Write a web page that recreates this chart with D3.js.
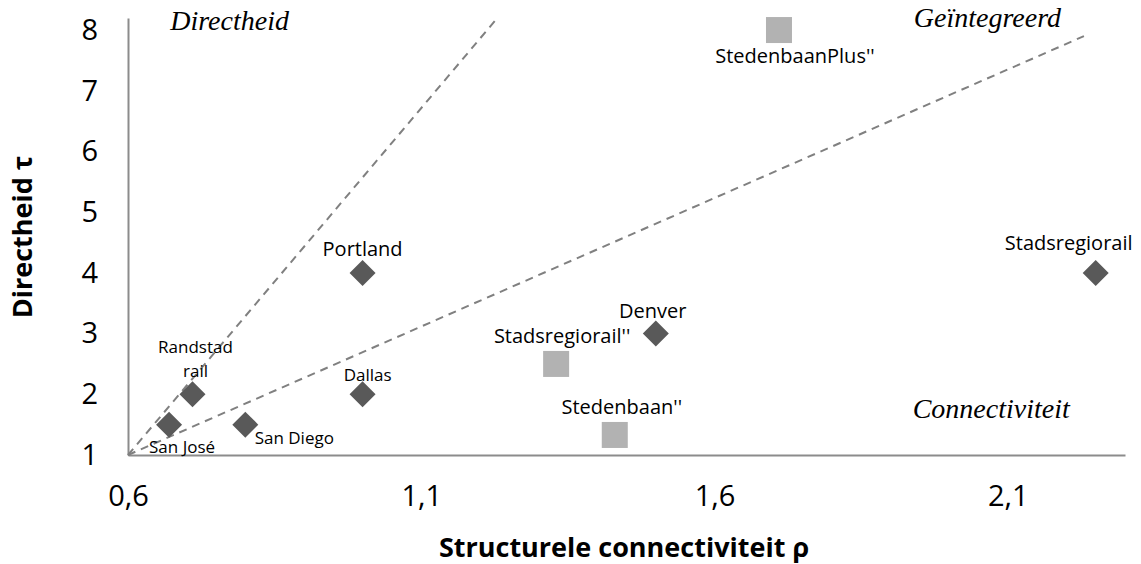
<!DOCTYPE html>
<html lang="en">
<head>
    <meta charset="UTF-8">
    <title>Directheid vs structurele connectiviteit</title>
    <style>
        body {
            margin: 0;
            padding: 0;
            background: #fff;
        }

        .tick text {
            font-family: "Open Sans", sans-serif;
            font-size: 29px;
            fill: #000;
        }

        .axis-title {
            font-family: "Open Sans", sans-serif;
            font-weight: bold;
            font-size: 27px;
            fill: #000;
        }

        .point-label {
            font-family: "Open Sans", sans-serif;
            fill: #000;
        }

        .zone-label {
            font-family: "Liberation Serif", "DejaVu Serif", serif;
            font-style: italic;
            font-size: 28px;
            fill: #000;
        }
    </style>
</head>
<body>
<svg id="chart"></svg>

<script src="https://d3js.org/d3.v7.min.js"></script>
<script>
    // existing systems (diamonds)
    var cities = ["San José", "Randstad\nrail", "San Diego", "Portland", "Dallas", "Denver", "Stadsregiorail"];
    var citiesRho = [0.67, 0.71, 0.80, 1.00, 1.00, 1.50, 2.25];
    var citiesTau = [1.5, 2.0, 1.5, 4.0, 2.0, 3.0, 4.0];

    // planned variants (squares)
    var plans = ["StedenbaanPlus''", "Stadsregiorail''", "Stedenbaan''"];
    var plansRho = [1.71, 1.33, 1.43];
    var plansTau = [8.0, 2.5, 1.33];

    // dashed dividing lines, start and end point
    var lineRho = [[0.6, 1.23], [0.6, 2.23]];
    var lineTau = [[1, 8.2], [1, 7.9]];

    // zone names with their anchor (data units)
    var zones = ["Directheid", "Geïntegreerd", "Connectiviteit"];
    var zoneRho = [0.672, 1.94, 1.938];
    var zoneTau = [8.0, 8.05, 1.61];

    var xTicks = [0.6, 1.1, 1.6, 2.1];
    var yTicks = [1, 2, 3, 4, 5, 6, 7, 8];

    // label placement relative to the marker: dx, dy, font size
    var labelPos = {
        "San José": [13, 28, 17],
        "Randstad\nrail": [3, -41, 17],
        "San Diego": [49, 19, 17],
        "Portland": [0, -17, 20],
        "Dallas": [5, -13, 17],
        "Denver": [-3, -16, 20],
        "Stadsregiorail": [-27, -23, 20],
        "StedenbaanPlus''": [16, 33, 20],
        "Stadsregiorail''": [6, -21, 20],
        "Stedenbaan''": [7, -21, 20]
    };

    var W = 1141, H = 564;
    var svg = d3.select("#chart").attr("width", W).attr("height", H);

    var x = d3.scaleLinear().domain([0.6, 2.3]).range([128, 1125]);
    var y = d3.scaleLinear().domain([1, 8.2]).range([455, 17.9]);

    var xAxis = svg.append("g")
        .attr("transform", "translate(0,455)")
        .call(d3.axisBottom(x).tickValues(xTicks).tickSize(0).tickPadding(30)
            .tickFormat(function (d) { return d3.format(".1f")(d).replace(".", ","); }));
    var yAxis = svg.append("g")
        .attr("transform", "translate(128,0)")
        .call(d3.axisLeft(y).tickValues(yTicks).tickSize(0).tickPadding(30));

    svg.selectAll(".domain").attr("stroke", "#8c8c8c").attr("stroke-width", 2);

    // dashed lines
    lineRho.forEach(function (r, i) {
        svg.append("line")
            .attr("x1", x(r[0])).attr("y1", y(lineTau[i][0]))
            .attr("x2", x(r[1])).attr("y2", y(lineTau[i][1]))
            .attr("stroke", "#808080")
            .attr("stroke-width", 2)
            .attr("stroke-dasharray", "8,6");
    });

    // zone names
    zones.forEach(function (z, i) {
        svg.append("text").attr("class", "zone-label")
            .attr("x", x(zoneRho[i])).attr("y", y(zoneTau[i]))
            .text(z);
    });

    // diamonds
    var cityData = cities.map(function (c, i) { return {name: c, rho: citiesRho[i], tau: citiesTau[i]}; });
    svg.selectAll(".city").data(cityData).enter().append("path")
        .attr("class", "city")
        .attr("d", d3.symbol().type(d3.symbolSquare).size(338))
        .attr("transform", function (d) { return "translate(" + x(d.rho) + "," + y(d.tau) + ") rotate(45)"; })
        .attr("fill", "#595959");

    // squares
    var planData = plans.map(function (p, i) { return {name: p, rho: plansRho[i], tau: plansTau[i]}; });
    svg.selectAll(".plan").data(planData).enter().append("rect")
        .attr("class", "plan")
        .attr("x", function (d) { return x(d.rho) - 13; })
        .attr("y", function (d) { return y(d.tau) - 13; })
        .attr("width", 26).attr("height", 26)
        .attr("fill", "#b2b2b2");

    // point labels
    cityData.concat(planData).forEach(function (d) {
        var p = labelPos[d.name];
        var t = svg.append("text").attr("class", "point-label")
            .attr("text-anchor", "middle")
            .attr("font-size", p[2])
            .attr("x", x(d.rho) + p[0]).attr("y", y(d.tau) + p[1]);
        d.name.split("\n").forEach(function (line, k) {
            t.append("tspan").attr("x", x(d.rho) + p[0]).attr("dy", k === 0 ? 0 : 24).text(line);
        });
    });

    // axis titles
    svg.append("text").attr("class", "axis-title")
        .attr("text-anchor", "middle")
        .attr("x", 624).attr("y", 557)
        .text("Structurele connectiviteit ρ");
    svg.append("text").attr("class", "axis-title")
        .attr("text-anchor", "middle")
        .attr("transform", "translate(32,237) rotate(-90)")
        .text("Directheid τ");
</script>
</body>
</html>
